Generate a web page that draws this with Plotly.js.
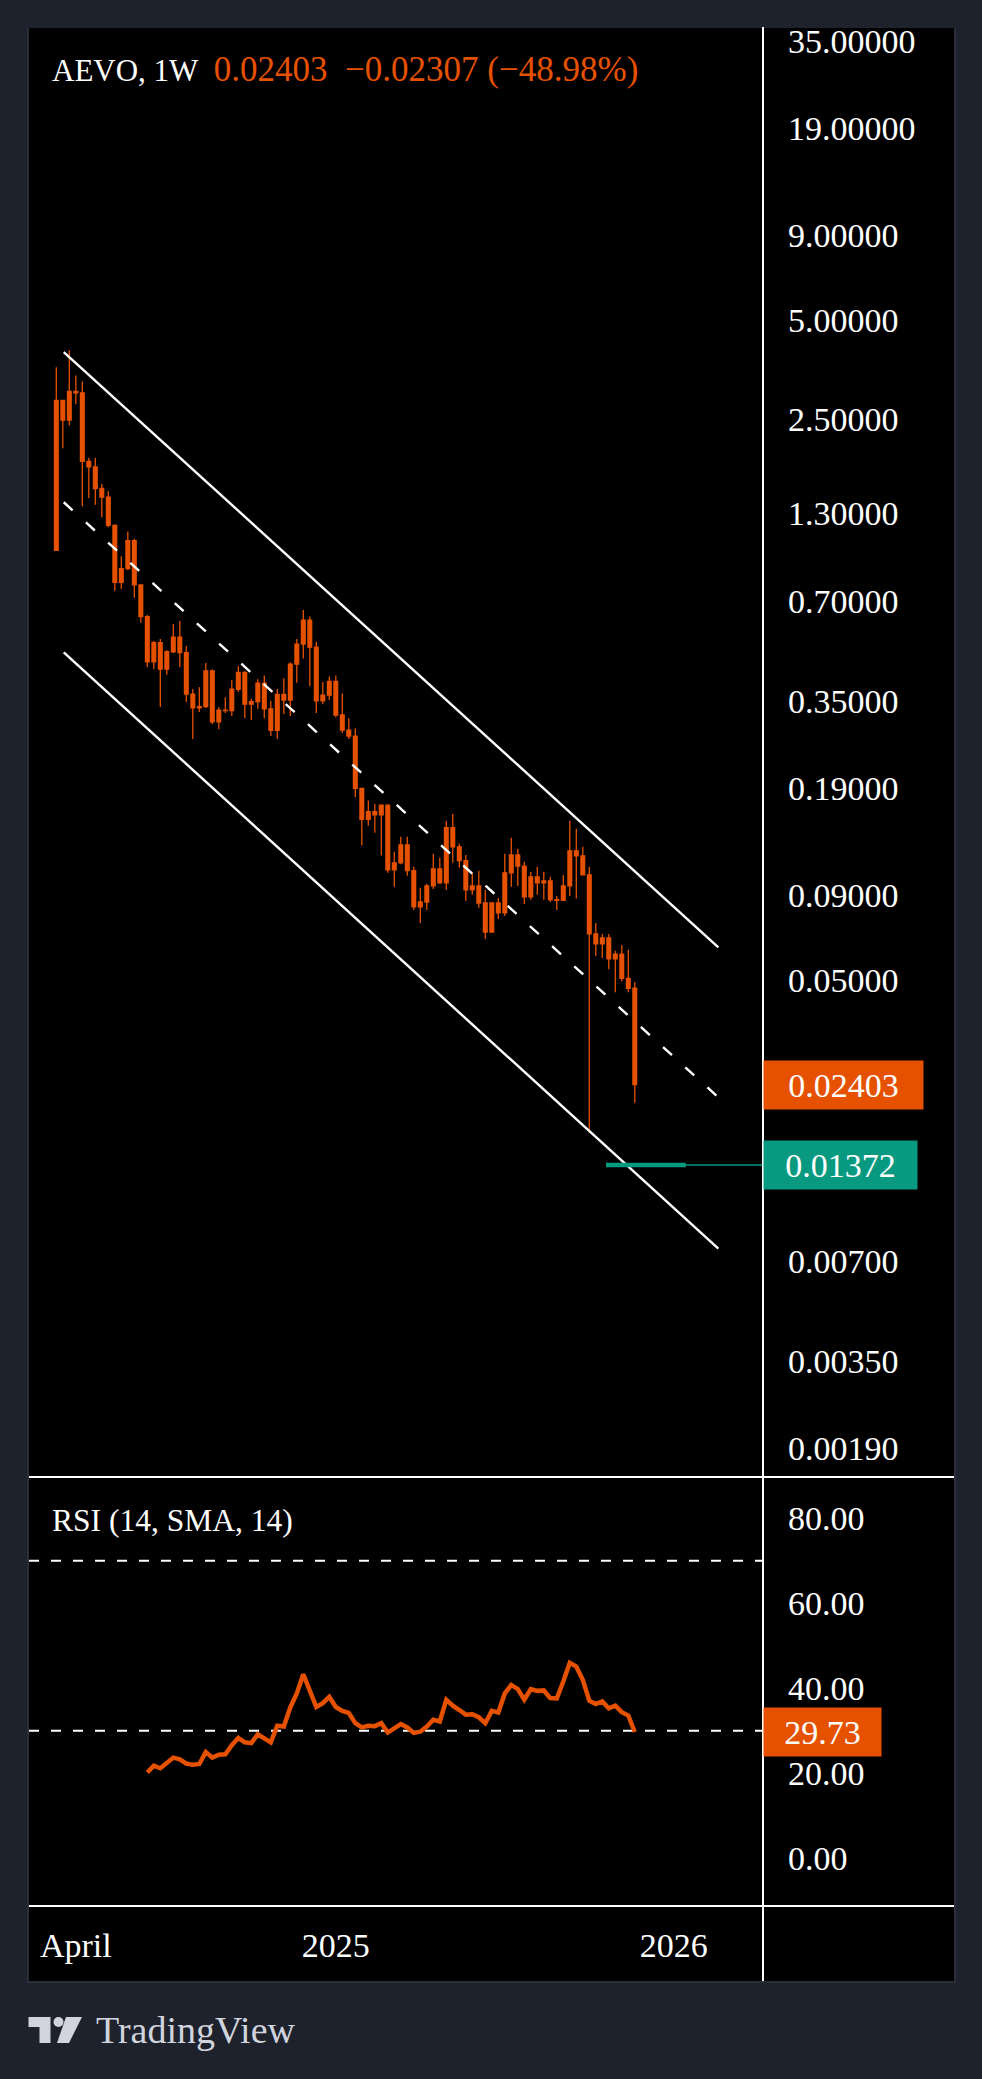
<!DOCTYPE html>
<html>
<head>
<meta charset="utf-8">
<script src="https://cdn.plot.ly/plotly-3.0.1.min.js"></script>
<style>
html,body{margin:0;padding:0;background:#1e222d;width:982px;height:2079px;overflow:hidden;}
#chart{position:absolute;left:0;top:0;width:982px;height:2079px;}
#logo{position:absolute;left:0;top:0;pointer-events:none;}
</style>
</head>
<body>
<div id="chart"></div>
<svg id="logo" width="982" height="2079" xmlns="http://www.w3.org/2000/svg">
  <g fill="#d1d4dc">
    <path d="M28.5 2017 H50.5 V2043 H39.5 V2027 H28.5 Z"/>
    <circle cx="58.5" cy="2022" r="5"/>
    <path d="M66 2017 H82 L69 2043 H57 Z"/>
  </g>
  <text x="96" y="2043" fill="#d1d4dc" font-family="Liberation Serif, serif" font-size="38">TradingView</text>
</svg>
<script>
// ---------- data ----------
const SYMBOL = 'AEVO';
const INTERVAL = '1W';
const WEEKS = [
 '2024-03-11','2024-03-18','2024-03-25','2024-04-01','2024-04-08','2024-04-15','2024-04-22','2024-04-29',
 '2024-05-06','2024-05-13','2024-05-20','2024-05-27','2024-06-03','2024-06-10','2024-06-17','2024-06-24',
 '2024-07-01','2024-07-08','2024-07-15','2024-07-22','2024-07-29','2024-08-05','2024-08-12','2024-08-19',
 '2024-08-26','2024-09-02','2024-09-09','2024-09-16','2024-09-23','2024-09-30','2024-10-07','2024-10-14',
 '2024-10-21','2024-10-28','2024-11-04','2024-11-11','2024-11-18','2024-11-25','2024-12-02','2024-12-09',
 '2024-12-16','2024-12-23','2024-12-30','2025-01-06','2025-01-13','2025-01-20','2025-01-27','2025-02-03',
 '2025-02-10','2025-02-17','2025-02-24','2025-03-03','2025-03-10','2025-03-17','2025-03-24','2025-03-31',
 '2025-04-07','2025-04-14','2025-04-21','2025-04-28','2025-05-05','2025-05-12','2025-05-19','2025-05-26',
 '2025-06-02','2025-06-09','2025-06-16','2025-06-23','2025-06-30','2025-07-07','2025-07-14','2025-07-21',
 '2025-07-28','2025-08-04','2025-08-11','2025-08-18','2025-08-25','2025-09-01','2025-09-08','2025-09-15',
 '2025-09-22','2025-09-29','2025-10-06','2025-10-13','2025-10-20','2025-10-27','2025-11-03','2025-11-10',
 '2025-11-17','2025-11-24'];
const OPEN = [
 1.00,2.85,2.48,3.03,3.00,1.86,1.79,1.54,1.45,1.19,0.80,0.88,1.07,0.786,0.63,0.459,0.525,0.437,0.493,0.546,
 0.49,0.367,0.333,0.336,0.431,0.302,0.328,0.327,0.3795,0.427,0.342,0.348,0.396,0.331,0.285,0.366,0.352,0.452,0.52,0.615,
 0.509,0.35,0.364,0.401,0.317,0.2853,0.2736,0.19,0.153,0.1615,0.158,0.169,0.1076,0.113,0.128,0.107,0.0831,0.086,0.0962,0.1084,
 0.0983,0.1444,0.1264,0.1147,0.0936,0.0962,0.0854,0.0697,0.0854,0.0797,0.1054,0.1194,0.1104,0.0891,0.1025,0.0983,0.0996,0.0874,0.087,0.0962,
 0.1229,0.1187,0.1039,0.0688,0.0642,0.0669,0.0578,0.0598,0.0505,0.0471];
const HIGH = [
 3.59,2.85,4.04,3.39,3.25,1.91,1.91,1.59,1.51,1.20,0.96,1.14,1.084,0.79,0.637,0.531,0.5385,0.498,0.598,0.611,
 0.513,0.38,0.385,0.456,0.436,0.3345,0.359,0.404,0.446,0.43,0.356,0.407,0.418,0.35,0.38,0.41,0.458,0.5385,0.66,0.63,
 0.5285,0.399,0.415,0.418,0.369,0.31,0.289,0.19,0.1745,0.1705,0.17,0.17,0.122,0.1356,0.1356,0.110,0.0949,0.0976,0.1204,0.1171,
 0.1517,0.1593,0.1293,0.1194,0.1054,0.1069,0.0936,0.0854,0.0884,0.1204,0.1347,0.1246,0.1138,0.1062,0.11,0.1062,0.1025,0.0897,0.1039,0.1517,
 0.1434,0.1264,0.11,0.0743,0.0688,0.0688,0.0612,0.0637,0.0616,0.0491];
const LOW = [
 1.00,2.04,2.39,2.77,1.36,1.44,1.375,1.26,1.175,0.755,0.764,0.87,0.719,0.603,0.4435,0.437,0.335,0.42,0.489,0.4435,
 0.347,0.268,0.324,0.333,0.298,0.287,0.3215,0.315,0.372,0.31,0.306,0.331,0.31,0.274,0.268,0.319,0.315,0.397,0.47,0.3875,
 0.3215,0.342,0.352,0.312,0.2795,0.268,0.1785,0.1276,0.1464,0.1395,0.119,0.1055,0.0956,0.112,0.1032,0.0813,0.0743,0.0813,0.0942,0.0975,
 0.0936,0.113,0.1092,0.0867,0.0904,0.0826,0.0664,0.0697,0.0764,0.078,0.0956,0.0962,0.0848,0.0874,0.0904,0.0874,0.086,0.0813,0.0867,0.0897,
 0.0881,0.1039,0.0172,0.059,0.0582,0.0538,0.0458,0.0494,0.0458,0.0212];
const CLOSE = [
 2.85,2.48,3.03,3.00,1.86,1.79,1.54,1.45,1.19,0.80,0.88,1.07,0.786,0.63,0.459,0.525,0.437,0.493,0.546,0.49,
 0.367,0.333,0.336,0.431,0.302,0.328,0.327,0.3795,0.427,0.342,0.348,0.396,0.331,0.285,0.366,0.352,0.452,0.52,0.615,0.509,
 0.35,0.364,0.401,0.317,0.2853,0.2736,0.19,0.153,0.1615,0.158,0.169,0.1076,0.113,0.128,0.107,0.0831,0.086,0.0962,0.1084,0.0983,
 0.1444,0.1264,0.1147,0.0936,0.0962,0.0854,0.0697,0.0854,0.0797,0.1054,0.1194,0.1104,0.0891,0.1025,0.0983,0.0996,0.0874,0.087,0.0962,0.1229,
 0.1187,0.1039,0.0688,0.0642,0.0669,0.0578,0.0598,0.0505,0.0471,0.02403];

const RSI_FIRST = 14;
const RSI_VALUES = [
 20.2,21.8,21.2,22.6,23.7,23.3,22.3,22.0,22.2,25.0,23.7,24.4,24.5,26.6,28.3,27.3,27.1,29.2,28.1,27.3,
 31.2,31.0,35.5,38.8,43.3,39.4,35.6,36.5,38.0,35.6,34.7,34.2,31.8,30.8,31.2,31.1,31.8,29.6,30.6,31.6,
 30.8,29.5,29.8,31.0,32.6,32.2,37.3,35.9,34.9,33.8,33.9,33.2,31.8,34.7,34.3,38.8,40.8,39.8,37.3,39.8,
 39.4,39.5,37.7,37.6,41.6,46.0,45.1,42.0,37.1,36.3,36.9,35.3,35.9,34.4,33.6,29.73];
const RSI_LEVELS = [70, 30];
const RSI_TICKS = [80, 60, 40, 20, 0];

const PRICE_TICKS = [35, 19, 9, 5, 2.5, 1.3, 0.7, 0.35, 0.19, 0.09, 0.05, 0.007, 0.0035, 0.0019];
const TIME_TICKS = ['2024-04-01', '2025-01-06', '2026-01-05'];
const TIME_LABELS = ['April', '2025', '2026'];

const CHANNEL_X = ['2024-03-19', '2026-02-22'];
const CHANNEL_UPPER = [3.99, 0.0627];
const CHANNEL_MID = [1.399, 0.0220];
const CHANNEL_LOWER = [0.491, 0.00766];

const TARGET_PRICE = 0.01372;
const TARGET_X = ['2025-10-24', '2026-01-18', '2026-04-11'];

// ---------- style ----------
const W = 982, H = 2079;
const fx = p => p / W;
const fy = p => 1 - p / H;
const ORANGE = '#e65100';
const TEAL = '#089981';
const BG = '#1e222d';
const FONT = 'Liberation Serif, DejaVu Serif, serif';
const X_RANGE = ['2024-02-10 14:00', '2026-04-11 02:00'];

const n = CLOSE.length;
const last = CLOSE[n - 1], prev = CLOSE[n - 2];
const chg = last - prev, pct = chg / prev * 100;
const sign = v => (v < 0 ? '\u2212' : '+');
const fmt5 = v => v.toFixed(5);
const titleText = SYMBOL + ', ' + INTERVAL + '\u00a0\u00a0<span style="color:' + ORANGE + ';font-size:35px">' +
  fmt5(last) + '\u00a0\u00a0' + sign(chg) + Math.abs(chg).toFixed(5) +
  '\u00a0(' + sign(pct) + Math.abs(pct).toFixed(2) + '%)</span>';

const traces = [
  {
    type: 'candlestick', x: WEEKS, open: OPEN, high: HIGH, low: LOW, close: CLOSE,
    xaxis: 'x', yaxis: 'y',
    increasing: {line: {color: ORANGE, width: 1.3}, fillcolor: ORANGE},
    decreasing: {line: {color: ORANGE, width: 1.3}, fillcolor: ORANGE},
    whiskerwidth: 0, hoverinfo: 'none'
  },
  {type: 'scatter', mode: 'lines', x: CHANNEL_X, y: CHANNEL_UPPER, xaxis: 'x', yaxis: 'y',
   line: {color: '#ffffff', width: 2.4}, hoverinfo: 'none'},
  {type: 'scatter', mode: 'lines', x: CHANNEL_X, y: CHANNEL_MID, xaxis: 'x', yaxis: 'y',
   line: {color: '#ffffff', width: 2.4, dash: '12px,18px'}, hoverinfo: 'none'},
  {type: 'scatter', mode: 'lines', x: CHANNEL_X, y: CHANNEL_LOWER, xaxis: 'x', yaxis: 'y',
   line: {color: '#ffffff', width: 2.4}, hoverinfo: 'none'},
  {type: 'scatter', mode: 'lines', x: TARGET_X.slice(1), y: [TARGET_PRICE, TARGET_PRICE], xaxis: 'x', yaxis: 'y',
   line: {color: TEAL, width: 1.6}, hoverinfo: 'none'},
  {type: 'scatter', mode: 'lines', x: TARGET_X.slice(0, 2), y: [TARGET_PRICE, TARGET_PRICE], xaxis: 'x', yaxis: 'y',
   line: {color: TEAL, width: 4.5}, hoverinfo: 'none'},
  {type: 'scatter', mode: 'lines', x: WEEKS.slice(RSI_FIRST), y: RSI_VALUES, xaxis: 'x2', yaxis: 'y2',
   line: {color: ORANGE, width: 4.5, shape: 'linear'}, hoverinfo: 'none'}
];

const axisFont = {family: FONT, size: 34, color: '#ffffff'};
const layout = {
  width: W, height: H,
  margin: {l: 0, r: 0, t: 0, b: 0},
  paper_bgcolor: BG,
  plot_bgcolor: 'rgba(0,0,0,0)',
  showlegend: false,
  boxgap: 0.18,
  font: {family: FONT, color: '#ffffff', size: 34},
  xaxis: {type: 'date', domain: [fx(29), fx(763)], range: X_RANGE, anchor: 'y',
    showticklabels: false, showgrid: false, zeroline: false, showline: false, ticks: '',
    rangeslider: {visible: false}, fixedrange: true},
  yaxis: {type: 'log', domain: [fy(1477), fy(27)], range: [-2.808, 1.586], anchor: 'x', side: 'right',
    tickmode: 'array', tickvals: PRICE_TICKS, ticktext: PRICE_TICKS.map(fmt5),
    showgrid: false, zeroline: false, showline: false, ticks: '', ticklabelstandoff: 24,
    tickfont: axisFont, fixedrange: true},
  xaxis2: {type: 'date', domain: [fx(29), fx(763)], range: X_RANGE, anchor: 'y2',
    tickmode: 'array', tickvals: TIME_TICKS, ticktext: TIME_LABELS,
    showgrid: false, zeroline: false, showline: false, ticks: '', ticklabelstandoff: 16,
    tickfont: axisFont, fixedrange: true},
  yaxis2: {domain: [fy(1906), fy(1477)], range: [-11.2, 89.7], anchor: 'x2', side: 'right',
    tickmode: 'array', tickvals: RSI_TICKS, ticktext: RSI_TICKS.map(v => v.toFixed(2)),
    showgrid: false, zeroline: false, showline: false, ticks: '', ticklabelstandoff: 24,
    tickfont: axisFont, fixedrange: true},
  shapes: [
    {type: 'rect', xref: 'paper', yref: 'paper', x0: fx(28), x1: fx(955), y0: fy(1982), y1: fy(26),
     fillcolor: '#000000', line: {color: '#2a2e39', width: 2}, layer: 'below'},
    {type: 'rect', xref: 'paper', yref: 'paper', x0: 0, x1: 1, y0: fy(28), y1: 1,
     fillcolor: BG, line: {width: 0}, layer: 'above'},
    {type: 'line', xref: 'paper', yref: 'paper', x0: fx(763), x1: fx(763), y0: fy(27), y1: fy(1981),
     line: {color: '#ffffff', width: 2}, layer: 'above'},
    {type: 'line', xref: 'paper', yref: 'paper', x0: fx(29), x1: fx(954), y0: fy(1477), y1: fy(1477),
     line: {color: '#ffffff', width: 2}, layer: 'above'},
    {type: 'line', xref: 'paper', yref: 'paper', x0: fx(29), x1: fx(954), y0: fy(1906), y1: fy(1906),
     line: {color: '#ffffff', width: 2}, layer: 'above'}
  ].concat(RSI_LEVELS.map(v => ({
    type: 'line', xref: 'paper', yref: 'y2', x0: fx(29), x1: fx(763), y0: v, y1: v,
    line: {color: '#ffffff', width: 2, dash: '10px,12px'}, layer: 'below'}))),
  annotations: [
    {xref: 'paper', yref: 'paper', x: fx(50), y: fy(69), xanchor: 'left', yanchor: 'middle',
     text: titleText, showarrow: false, font: {family: FONT, size: 31, color: '#ffffff'}},
    {xref: 'paper', yref: 'paper', x: fx(50), y: fy(1520), xanchor: 'left', yanchor: 'middle',
     text: 'RSI (14, SMA, 14)', showarrow: false, font: {family: FONT, size: 31.5, color: '#ffffff'}},
    {xref: 'paper', yref: 'y', x: fx(763), y: Math.log10(last), xanchor: 'left', yanchor: 'middle',
     text: fmt5(last), showarrow: false, bgcolor: ORANGE, width: 159, height: 48, borderpad: 0,
     align: 'center', font: {family: FONT, size: 34, color: '#ffffff'}},
    {xref: 'paper', yref: 'y', x: fx(763), y: Math.log10(TARGET_PRICE), xanchor: 'left', yanchor: 'middle',
     text: fmt5(TARGET_PRICE), showarrow: false, bgcolor: TEAL, width: 153, height: 48, borderpad: 0,
     align: 'center', font: {family: FONT, size: 34, color: '#ffffff'}},
    {xref: 'paper', yref: 'y2', x: fx(763), y: RSI_VALUES[RSI_VALUES.length - 1], xanchor: 'left', yanchor: 'middle',
     text: RSI_VALUES[RSI_VALUES.length - 1].toFixed(2), showarrow: false, bgcolor: ORANGE, width: 117, height: 48,
     borderpad: 0, align: 'center', font: {family: FONT, size: 34, color: '#ffffff'}}
  ]
};

Plotly.newPlot('chart', traces, layout, {staticPlot: true, displayModeBar: false});
</script>
</body>
</html>
